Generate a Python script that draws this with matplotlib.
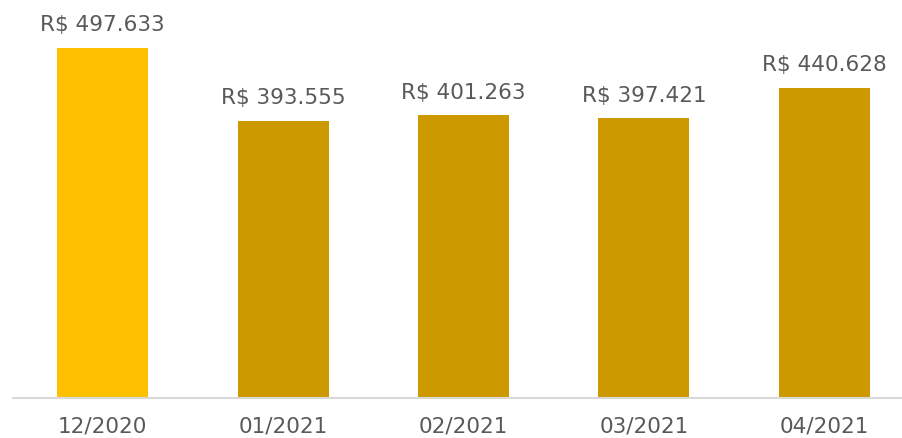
import matplotlib
matplotlib.use("Agg")
import matplotlib.pyplot as plt

categories = ["12/2020", "01/2021", "02/2021", "03/2021", "04/2021"]
values = [497.633, 393.555, 401.263, 397.421, 440.628]
labels = ["R$ 497.633", "R$ 393.555", "R$ 401.263", "R$ 397.421", "R$ 440.628"]
colors = ["#FFC000", "#CC9900", "#CC9900", "#CC9900", "#CC9900"]

W, H = 903, 438
fig = plt.figure(figsize=(W / 100, H / 100), dpi=100)
left = 12.5 / W
bottom = (H - 397.5) / H
ax = fig.add_axes([left, bottom, 1 - left, 1 - bottom])

x = list(range(len(categories)))
ax.bar(x, values, width=0.504, color=colors, zorder=2)

ax.set_xlim(-0.5, -0.5 + (W - 12.5) / 180.4)
ax.set_ylim(0, 497.633 * 397.5 / 349.8)

text_color = "#595959"
for xi, v, lab in zip(x, values, labels):
    ax.annotate(lab, (xi, v), xytext=(0, 11.8), textcoords="offset points",
                ha="center", va="baseline", fontsize=15.5, color=text_color)

ax.set_xticks(x)
ax.set_xticklabels(categories, fontsize=15.5, color=text_color)
ax.tick_params(axis="x", length=0, pad=14)
ax.set_yticks([])
for s in ["top", "right", "left"]:
    ax.spines[s].set_visible(False)
ax.spines["bottom"].set_color("#D9D9D9")
ax.spines["bottom"].set_linewidth(1.5)

fig.savefig("out.png", dpi=100)
